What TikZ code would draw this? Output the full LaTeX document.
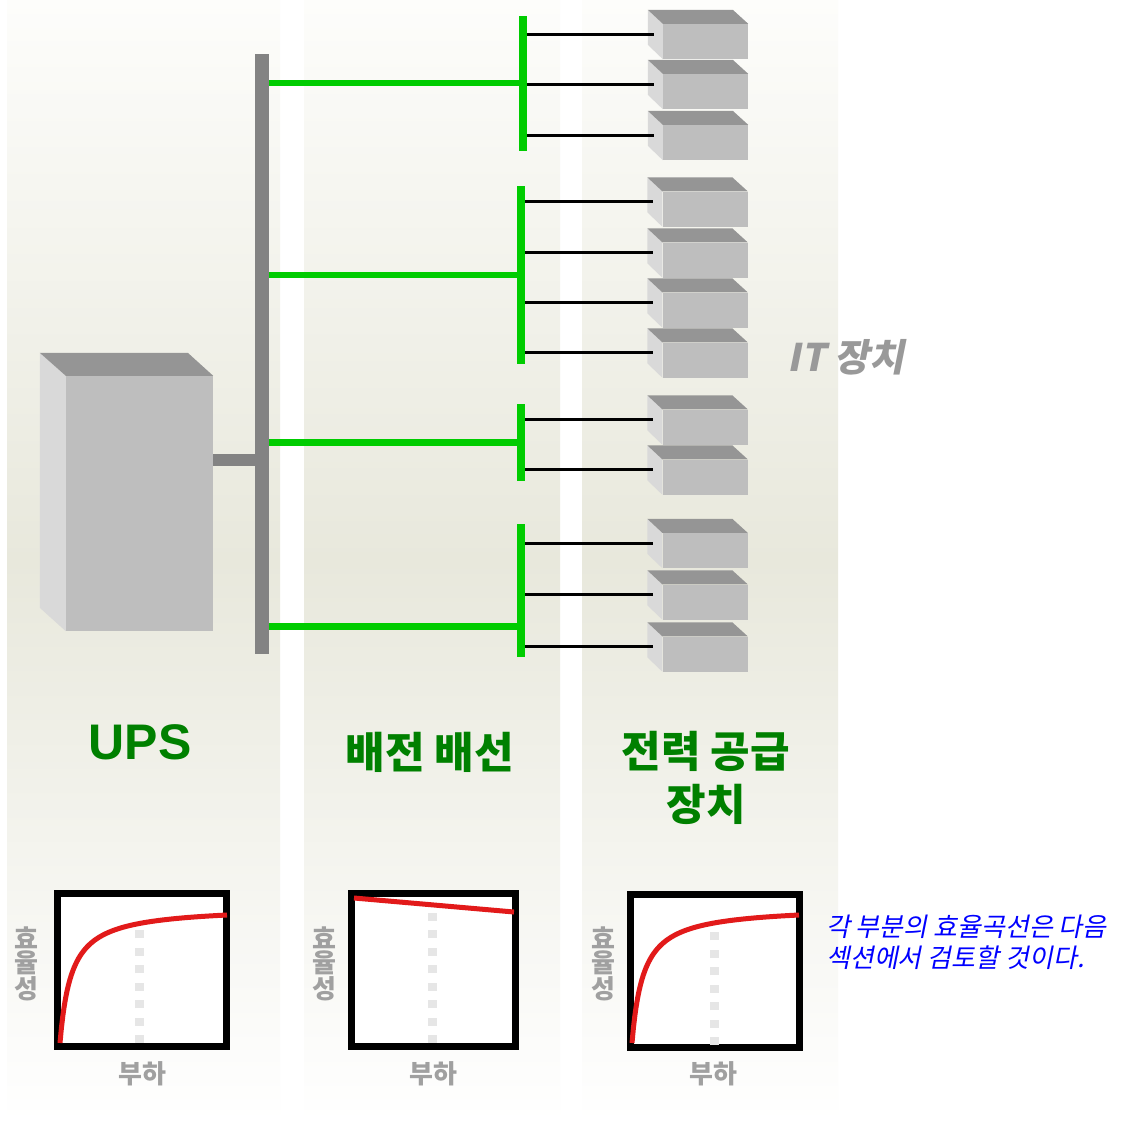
\documentclass[tikz,border=0pt]{standalone}
\usepackage{fontspec}
\setmainfont{Liberation Sans}
\newfontfamily\krfont{Noto Sans CJK KR}
\newfontfamily\krslant[FakeSlant=0.2]{Noto Sans CJK KR}
\definecolor{feedgreen}{RGB}{0,204,0}
\definecolor{titlegreen}{RGB}{0,128,0}
\definecolor{busgray}{RGB}{131,131,131}
\definecolor{boxfront}{RGB}{190,190,190}
\definecolor{boxtop}{RGB}{149,149,149}
\definecolor{boxside}{RGB}{217,217,217}
\definecolor{coltop}{RGB}{253,253,251}
\definecolor{colbeige}{RGB}{232,232,220}
\definecolor{markgray}{RGB}{230,230,230}
\definecolor{labelgray}{RGB}{160,160,160}
\definecolor{itgray}{RGB}{153,153,153}
\definecolor{curvered}{RGB}{226,26,26}
\tikzstyle{busbar} = [rectangle,fill=busgray,minimum width=14pt,minimum height=600pt,inner sep=0pt]
\tikzstyle{pdubar} = [rectangle,fill=feedgreen,minimum width=8pt,inner sep=0pt]
\tikzstyle{upsfront} = [rectangle,fill=boxfront,minimum width=147pt,minimum height=255pt,inner sep=0pt]
\tikzstyle{itfront} = [rectangle,fill=boxfront,minimum width=85pt,minimum height=35pt,inner sep=0pt]
\tikzstyle{facetop} = [fill=boxtop]
\tikzstyle{faceside} = [fill=boxside]
\tikzstyle{stub} = [busgray,line width=12pt]
\tikzstyle{feeder} = [feedgreen,line width=6.5pt]
\tikzstyle{cord} = [black,line width=3pt]
\tikzstyle{chartframe} = [rectangle,draw=black,line width=7pt,fill=white,minimum height=153pt,inner sep=0pt]
\tikzstyle{effcurve} = [curvered,line width=5pt]
\tikzstyle{loadmark} = [markgray,line width=9pt,dash pattern=on 8pt off 9.5pt]
\tikzstyle{titletext} = [text=titlegreen,font=\krfont\bfseries\fontsize{43}{53}\selectfont,align=center,inner sep=0pt]
\tikzstyle{axistext} = [text=labelgray,font=\krfont\bfseries\fontsize{26}{24}\selectfont,align=center,inner sep=0pt]
\tikzstyle{notetext} = [text=blue,font=\krslant\fontsize{26}{31}\selectfont,align=left,inner sep=0pt]
\tikzstyle{ittext} = [text=itgray,font=\krslant\bfseries\fontsize{38}{40}\selectfont,inner sep=0pt]
\begin{document}
\begin{tikzpicture}[x=1pt,y=-1pt]

% 1 unit = 1px, y grows downwards
\fill[white] (0,0) rectangle (1125,1122);
\useasboundingbox (0,0) rectangle (1125,1122);

\shade[top color=coltop,bottom color=white,middle color=colbeige] (7,0) rectangle (280,1122);
\shade[top color=coltop,bottom color=white,middle color=colbeige] (304,0) rectangle (560,1122);
\shade[top color=coltop,bottom color=white,middle color=colbeige] (582,0) rectangle (838,1122);

\node (bus)  [busbar] at (262,353.5) {};
\node (pdu1) [pdubar,minimum height=135pt] at (522.8,83) {};
\node (pdu2) [pdubar,minimum height=178pt] at (521,275) {};
\node (pdu3) [pdubar,minimum height=77pt] at (521,442.5) {};
\node (pdu4) [pdubar,minimum height=133pt] at (521,590) {};

\node (ups) [upsfront] at (139.5,503.5) {};
\fill[faceside] (ups.north west) -- ++(-26,-23) -- ++(0,255) -- (ups.south west) -- cycle;
\fill[facetop] (ups.north west) -- ++(-26,-23) -- ++(148,0) -- (ups.north east) -- cycle;

\node (it11) [itfront] at (705.5,41.5) {};
\node (it12) [itfront] at (705.5,91.5) {};
\node (it13) [itfront] at (705.5,142.5) {};
\node (it21) [itfront] at (705,209) {};
\node (it22) [itfront] at (705,260) {};
\node (it23) [itfront] at (705,310) {};
\node (it24) [itfront] at (705,360) {};
\node (it31) [itfront] at (705,427) {};
\node (it32) [itfront] at (705,477) {};
\node (it41) [itfront] at (705,550.5) {};
\node (it42) [itfront] at (705,602) {};
\node (it43) [itfront] at (705,654) {};

\fill[faceside] (it11.north west) -- ++(-15,-14) -- ++(0,35) -- (it11.south west) -- cycle;
\fill[facetop] (it11.north west) -- ++(-15,-14) -- ++(85,0) -- (it11.north east) -- cycle;
\fill[faceside] (it12.north west) -- ++(-15,-14) -- ++(0,35) -- (it12.south west) -- cycle;
\fill[facetop] (it12.north west) -- ++(-15,-14) -- ++(85,0) -- (it12.north east) -- cycle;
\fill[faceside] (it13.north west) -- ++(-15,-14) -- ++(0,35) -- (it13.south west) -- cycle;
\fill[facetop] (it13.north west) -- ++(-15,-14) -- ++(85,0) -- (it13.north east) -- cycle;
\fill[faceside] (it21.north west) -- ++(-15,-14) -- ++(0,35) -- (it21.south west) -- cycle;
\fill[facetop] (it21.north west) -- ++(-15,-14) -- ++(85,0) -- (it21.north east) -- cycle;
\fill[faceside] (it22.north west) -- ++(-15,-14) -- ++(0,35) -- (it22.south west) -- cycle;
\fill[facetop] (it22.north west) -- ++(-15,-14) -- ++(85,0) -- (it22.north east) -- cycle;
\fill[faceside] (it23.north west) -- ++(-15,-14) -- ++(0,35) -- (it23.south west) -- cycle;
\fill[facetop] (it23.north west) -- ++(-15,-14) -- ++(85,0) -- (it23.north east) -- cycle;
\fill[faceside] (it24.north west) -- ++(-15,-14) -- ++(0,35) -- (it24.south west) -- cycle;
\fill[facetop] (it24.north west) -- ++(-15,-14) -- ++(85,0) -- (it24.north east) -- cycle;
\fill[faceside] (it31.north west) -- ++(-15,-14) -- ++(0,35) -- (it31.south west) -- cycle;
\fill[facetop] (it31.north west) -- ++(-15,-14) -- ++(85,0) -- (it31.north east) -- cycle;
\fill[faceside] (it32.north west) -- ++(-15,-14) -- ++(0,35) -- (it32.south west) -- cycle;
\fill[facetop] (it32.north west) -- ++(-15,-14) -- ++(85,0) -- (it32.north east) -- cycle;
\fill[faceside] (it41.north west) -- ++(-15,-14) -- ++(0,35) -- (it41.south west) -- cycle;
\fill[facetop] (it41.north west) -- ++(-15,-14) -- ++(85,0) -- (it41.north east) -- cycle;
\fill[faceside] (it42.north west) -- ++(-15,-14) -- ++(0,35) -- (it42.south west) -- cycle;
\fill[facetop] (it42.north west) -- ++(-15,-14) -- ++(85,0) -- (it42.north east) -- cycle;
\fill[faceside] (it43.north west) -- ++(-15,-14) -- ++(0,35) -- (it43.south west) -- cycle;
\fill[facetop] (it43.north west) -- ++(-15,-14) -- ++(85,0) -- (it43.north east) -- cycle;

\coordinate (upsout) at ([yshift=43.5pt]ups.east);
\coordinate (tap4) at ([yshift=-36.5pt]pdu4.west);

\draw[stub] (upsout) -- (upsout -| bus.west);
\draw[feeder] (pdu1.west) -- (pdu1.west -| bus.east);
\draw[feeder] (pdu2.west) -- (pdu2.west -| bus.east);
\draw[feeder] (pdu3.west) -- (pdu3.west -| bus.east);
\draw[feeder] (tap4) -- (tap4 -| bus.east);

\draw[cord] ([yshift=7.5pt]it11.west -| pdu1.east) -- ([xshift=-9pt,yshift=7.5pt]it11.west);
\draw[cord] ([yshift=7.5pt]it12.west -| pdu1.east) -- ([xshift=-9pt,yshift=7.5pt]it12.west);
\draw[cord] ([yshift=7.5pt]it13.west -| pdu1.east) -- ([xshift=-9pt,yshift=7.5pt]it13.west);
\draw[cord] ([yshift=7.5pt]it21.west -| pdu2.east) -- ([xshift=-9pt,yshift=7.5pt]it21.west);
\draw[cord] ([yshift=7.5pt]it22.west -| pdu2.east) -- ([xshift=-9pt,yshift=7.5pt]it22.west);
\draw[cord] ([yshift=7.5pt]it23.west -| pdu2.east) -- ([xshift=-9pt,yshift=7.5pt]it23.west);
\draw[cord] ([yshift=7.5pt]it24.west -| pdu2.east) -- ([xshift=-9pt,yshift=7.5pt]it24.west);
\draw[cord] ([yshift=7.5pt]it31.west -| pdu3.east) -- ([xshift=-9pt,yshift=7.5pt]it31.west);
\draw[cord] ([yshift=7.5pt]it32.west -| pdu3.east) -- ([xshift=-9pt,yshift=7.5pt]it32.west);
\draw[cord] ([yshift=7.5pt]it41.west -| pdu4.east) -- ([xshift=-9pt,yshift=7.5pt]it41.west);
\draw[cord] ([yshift=7.5pt]it42.west -| pdu4.east) -- ([xshift=-9pt,yshift=7.5pt]it42.west);
\draw[cord] ([yshift=7.5pt]it43.west -| pdu4.east) -- ([xshift=-9pt,yshift=7.5pt]it43.west);

\node (itlbl) [ittext] at (846,357) {IT 장치};

\node (upslbl) [text=titlegreen,font=\bfseries\fontsize{50}{53}\selectfont,inner sep=0pt] at (140,742) {UPS};
\node (pdulbl) [titletext] at (430,752) {배전 배선};
\node (psulbl) [titletext] at (706,778) {전력 공급\\장치};

% efficiency charts
\node (graf1) [chartframe,minimum width=169pt] at (142,970) {};
\node (graf2) [chartframe,minimum width=164pt] at (433.3,970) {};
\node (graf3) [chartframe,minimum width=169pt] at (715,971) {};

\draw[loadmark] (139.5,1043) -- (139.5,928);
\draw[loadmark] (432.8,1043) -- (432.8,913);
\draw[loadmark] (714,1045) -- (714,930);

\draw[effcurve] plot[domain=60:227,samples=120] (\x,{906.2+1570/(\x-48.52)});
\draw[effcurve] (354,898) -- (514,912);
\draw[effcurve] plot[domain=60:227,samples=120] (\x+572,{906.2+1570/(\x-48.52)});

\node (eff1) [axistext] at (26,964) {효\\율\\성};
\node (eff2) [axistext] at (324,964) {효\\율\\성};
\node (eff3) [axistext] at (603,964) {효\\율\\성};
\node (load1) [axistext] at (142,1074) {부하};
\node (load2) [axistext] at (433.5,1074) {부하};
\node (load3) [axistext] at (713,1074) {부하};

\node (nota) [notetext,anchor=north west] at (826,915) {각 부분의 효율곡선은 다음\\섹션에서 검토할 것이다.};

\end{tikzpicture}
\end{document}
